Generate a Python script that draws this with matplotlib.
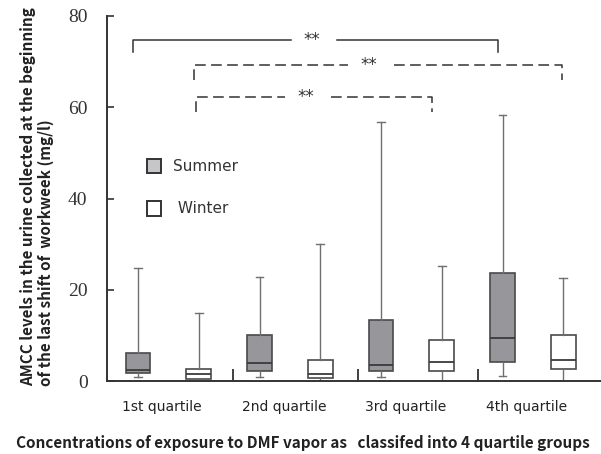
import matplotlib
matplotlib.use('Agg')
import matplotlib.pyplot as plt
from matplotlib.patches import Patch
from matplotlib.ticker import FixedLocator

groups = ['1st quartile', '2nd quartile', '3rd quartile', '4th quartile']
summer_whislo = [0.8, 0.8, 0.9, 1.1]
summer_q1 = [1.7, 2.3, 2.2, 4.1]
summer_med = [2.5, 3.9, 3.5, 9.4]
summer_q3 = [6.2, 10.0, 13.4, 23.6]
summer_whishi = [24.7, 22.7, 56.8, 58.2]
winter_whislo = [0.0, 0.0, 0.0, 0.0]
winter_q1 = [0.4, 0.7, 2.2, 2.6]
winter_med = [1.6, 1.5, 4.2, 4.6]
winter_q3 = [2.7, 4.6, 8.9, 10.0]
winter_whishi = [14.8, 30.0, 25.3, 22.6]
yticks = [0, 20, 40, 60, 80]

# significance brackets: (x_left, x_right, y_top, y_leg, label_x, style)
brackets = [
    (0.71, 3.71, 74.7, 72.1, 2.20, 'solid'),
    (1.21, 4.24, 69.3, 66.0, 2.67, 'dashed'),
    (1.23, 3.17, 62.2, 59.0, 2.15, 'dashed'),
]

def stats(lo, q1, med, q3, hi):
    return [dict(whislo=a, q1=b, med=c, q3=d, whishi=e, fliers=[])
            for a, b, c, d, e in zip(lo, q1, med, q3, hi)]

fig = plt.figure(figsize=(6.01, 4.54), dpi=100)
ax = fig.add_axes([107/601, (454-381)/454, (601-107)/601, 365/454])

pos = [i + 1 for i in range(len(groups))]
edge = '#4a4a4a'
wcol = '#707070'
common = dict(widths=0.205, patch_artist=True, showfliers=False,
              whiskerprops=dict(color=wcol, lw=1.0),
              capprops=dict(color=wcol, lw=1.0),
              medianprops=dict(color='#3a3a3a', lw=1.3))
bs = ax.bxp(stats(summer_whislo, summer_q1, summer_med, summer_q3, summer_whishi),
            positions=[p - 0.25 for p in pos],
            boxprops=dict(facecolor='#97979b', edgecolor=edge, lw=1.2), **common)
bw = ax.bxp(stats(winter_whislo, winter_q1, winter_med, winter_q3, winter_whishi),
            positions=[p + 0.25 for p in pos],
            boxprops=dict(facecolor='white', edgecolor=edge, lw=1.2), **common)
for c in bs['caps'] + bw['caps']:
    x = c.get_xdata()
    m = (x[0] + x[1]) / 2
    c.set_xdata([m - 0.032, m + 0.032])

ax.set_xlim(0.495, 4.56)
ax.set_ylim(0, 80)
ax.set_yticks(yticks)
ax.set_yticklabels([str(v) for v in yticks], family='Liberation Serif', fontsize=14, color='#333333')
ax.tick_params(axis='y', direction='in', length=5, width=1.2, color='#333333', pad=14)
ax.set_xticks([p - 0.05 for p in pos])
ax.set_xticklabels(groups, fontsize=10, color='#222222')
ax.tick_params(axis='x', length=0, pad=14)
ax.xaxis.set_minor_locator(FixedLocator([1.535, 2.56, 3.55]))
ax.tick_params(axis='x', which='minor', direction='in', length=9, width=1.3, color='#333333')
for s in ['top', 'right']:
    ax.spines[s].set_visible(False)
for s in ['left', 'bottom']:
    ax.spines[s].set_linewidth(1.4)
    ax.spines[s].set_color('#333333')

gap = 0.19
for xl, xr, yt, yl, lx, st in brackets:
    ls = '-' if st == 'solid' else (0, (7, 3.5))
    ax.plot([xl, xl, lx - gap], [yl, yt, yt], color='#333333', lw=1.1, linestyle=ls,
            clip_on=False)
    ax.plot([lx + gap, xr, xr], [yt, yt, yl], color='#333333', lw=1.1, linestyle=ls,
            clip_on=False)
    ax.text(lx - 0.02, yt, '**', ha='center', va='center', fontsize=12, color='#333333')

handles = [Patch(facecolor='#c6c6c8', edgecolor='#333333', lw=1.4),
           Patch(facecolor='white', edgecolor='#333333', lw=1.4)]
ax.legend(handles, ['Summer', ' Winter'], loc='upper left', bbox_to_anchor=(0.053, 0.647),
          frameon=False, handlelength=0.9, handleheight=1.1, labelspacing=1.75,
          handletextpad=0.8, fontsize=11, labelcolor='#333333')

fig.text(37/601, (454-386)/454,
         'AMCC levels in the urine collected at the beginning\nof the last shift of  workweek (mg/l)',
         rotation=90, ha='center', va='bottom', multialignment='left',
         fontsize=11, fontweight='bold', color='#222222', linespacing=1.15,
         family='Noto Sans CJK JP')
fig.text(303/601, (454-443)/454,
         'Concentrations of exposure to DMF vapor as   classifed into 4 quartile groups',
         ha='center', va='center', fontsize=11, fontweight='bold', color='#222222',
         family='Noto Sans CJK JP')

fig.savefig('out.png', dpi=100)
